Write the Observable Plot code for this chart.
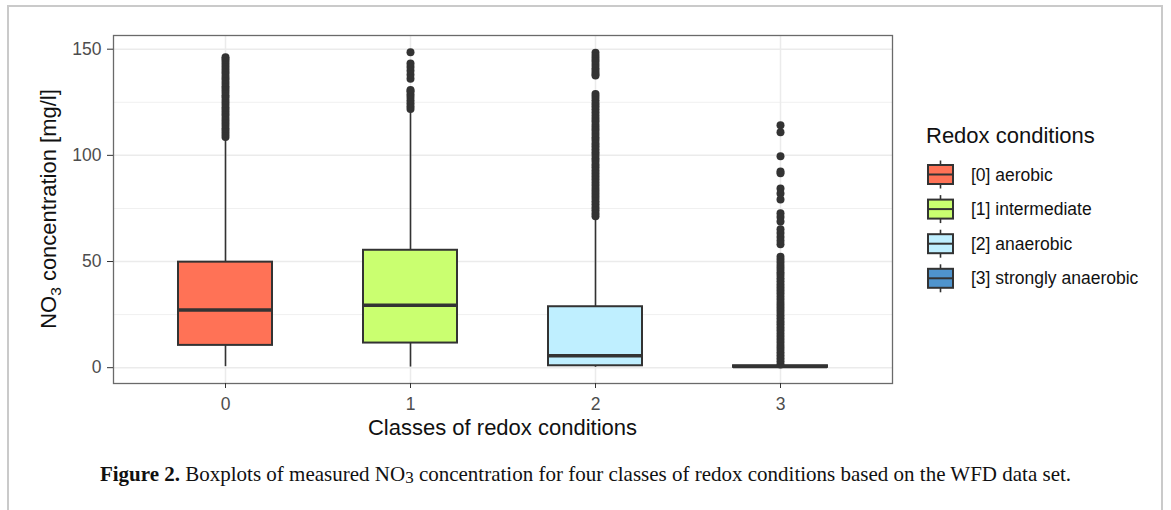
<!DOCTYPE html>
<html><head><meta charset="utf-8">
<script src="https://cdn.jsdelivr.net/npm/d3@7"></script>
<script src="https://cdn.jsdelivr.net/npm/@observablehq/plot@0.6"></script>
<style>
html,body{margin:0;padding:0;background:#fff;width:1171px;height:510px;overflow:hidden;}
#wrap{position:relative;width:1171px;height:510px;}
#chart{position:absolute;left:0;top:0;}
#frame{position:absolute;left:7px;top:5px;width:1156px;height:530px;box-sizing:border-box;border:2px solid #cacaca;border-bottom:none;pointer-events:none;}
#caption{position:absolute;left:0;width:1171px;top:463px;line-height:22px;text-align:center;font-family:"Liberation Serif","Times New Roman",serif;font-size:21px;color:#111;white-space:nowrap;}
#caption sub{font-size:17px;vertical-align:-2px;line-height:0;}
</style></head>
<body><div id="wrap"><div id="chart"></div><div id="caption"></div><div id="frame"></div></div>
<script>
// ---- data ----
const classes = ["0", "1", "2", "3"];
const classLabels = ["[0] aerobic", "[1] intermediate", "[2] anaerobic", "[3] strongly anaerobic"];
const classColors = ["#FF7256", "#CAFF70", "#BFEFFF", "#4F94CD"];
const q1 = [10.5, 11.6, 0.9, 0.15];
const median = [27.2, 29.4, 5.6, 0.5];
const q3 = [49.7, 55.3, 28.7, 0.9];
const whiskerLow = [0.5, 0.3, 0.2, 0.0];
const whiskerHigh = [108.0, 120.5, 70.0, 1.2];
const outliers0 = [108.6,110.0,111.5,112.8,114.3,115.7,117.1,118.6,119.9,121.4,122.7,124.2,125.6,127.1,128.3,129.8,131.2,132.6,134.1,135.6,136.9,138.4,139.7,141.2,142.6,144.0,145.3,146.2];
const outliers1 = [121.8,123.1,124.6,126.0,127.5,128.8,130.2,130.8,136.1,138.0,139.9,141.6,143.3,148.6];
const outliers2 = [148.3,146.8,145.4,144.1,142.5,141.0,139.7,138.4,137.6,128.9,127.5,126.0,124.4,123.1,121.7,120.2,118.6,117.3,115.9,114.3,112.9,111.6,110.0,108.5,107.2,105.6,104.3,102.9,101.5,100.2,98.6,97.3,95.7,94.4,92.9,91.5,90.0,88.6,87.1,85.7,84.2,82.8,81.3,79.9,78.4,77.0,75.4,74.1,72.6,71.3];
const outliers3 = [114.2,110.9,99.6,92.4,91.6,84.4,82.0,79.2,72.7,71.0,68.9,65.2,63.4,61.5,59.8,58.1,52.2,50.8,49.4,47.9,46.5,45.0,43.6,42.1,40.7,39.2,37.8,36.3,34.9,33.4,32.0,30.5,29.1,27.6,26.2,24.7,23.3,21.8,20.4,18.9,17.5,16.0,14.6,13.1,11.7,10.2,8.8,7.3,5.9,4.4,3.0,1.5];
const yMajorTicks = [0, 50, 100, 150];
const yMinorTicks = [25, 75, 125];
const xTitle = "Classes of redox conditions";
const legendTitle = "Redox conditions";

// ---- tables ----
const boxes = classes.map((c, i) => ({cls: c, q1: q1[i], med: median[i], q3: q3[i], lo: whiskerLow[i], hi: whiskerHigh[i]}));
const outs = [];
[outliers0, outliers1, outliers2, outliers3].forEach((arr, i) => arr.forEach(v => outs.push({cls: classes[i], v})));

const FONT = '"Liberation Sans", Arial, sans-serif';
const plot = Plot.plot({
  width: 1171, height: 450,
  marginTop: 35, marginBottom: 67, marginLeft: 113, marginRight: 279,
  style: {fontFamily: FONT, fontSize: "17.5px", background: "transparent", color: "#4d4d4d"},
  x: {type: "band", domain: classes, paddingInner: 0.493, paddingOuter: 0.3465, label: null},
  y: {domain: [-7.45, 156.45], label: null},
  color: {domain: classes, range: classColors},
  marks: [
    Plot.gridY(yMinorTicks, {stroke: "#f0f0f0", strokeOpacity: 1, strokeWidth: 1}),
    Plot.gridY(yMajorTicks, {stroke: "#ebebeb", strokeOpacity: 1, strokeWidth: 1.5}),
    Plot.gridX(classes, {stroke: "#ebebeb", strokeOpacity: 1, strokeWidth: 1.5}),
    Plot.ruleX(boxes, {x: "cls", y1: "q3", y2: "hi", stroke: "#333", strokeWidth: 1.6}),
    Plot.ruleX(boxes, {x: "cls", y1: "lo", y2: "q1", stroke: "#333", strokeWidth: 1.6}),
    Plot.dot(outs, {x: "cls", y: "v", r: 4, fill: "#333", stroke: "none"}),
    Plot.barY(boxes, {x: "cls", y1: "q1", y2: "q3", fill: "cls", stroke: "#333", strokeWidth: 2}),
    Plot.tickY(boxes, {x: "cls", y: "med", stroke: "#333", strokeWidth: 3.5}),
    Plot.frame({stroke: "#6a6a6a", strokeWidth: 1.3}),
    Plot.axisY(yMajorTicks, {tickSize: 6, tickPadding: 6, stroke: "#333", fill: "#4d4d4d", label: null}),
    Plot.axisX({tickSize: 5, tickPadding: 9, stroke: "#333", fill: "#4d4d4d", label: null})
  ]
});
document.getElementById("chart").appendChild(plot);

const svg = d3.select(plot);
// y-axis title with subscript
const yt = svg.append("text")
  .attr("transform", "translate(55.5,209) rotate(-90)")
  .attr("text-anchor", "middle")
  .attr("font-family", FONT).attr("font-size", 22).attr("fill", "#111");
yt.append("tspan").text("NO");
yt.append("tspan").attr("font-size", 15.5).attr("dy", 5).text("3");
yt.append("tspan").attr("dy", -5).text(" concentration [mg/l]");

// x-axis title
svg.append("text").attr("x", 502.5).attr("y", 435).attr("text-anchor", "middle")
  .attr("font-family", FONT).attr("font-size", 22).attr("fill", "#111").text(xTitle);

// legend
const lg = svg.append("g").attr("font-family", FONT).attr("text-anchor", "start");
lg.append("text").attr("x", 926).attr("y", 143).attr("text-anchor", "start").attr("font-size", 22).attr("fill", "#111").text(legendTitle);
classLabels.forEach((lab, i) => {
  const cy = 174.5 + i * 34.6, x0 = 928, w = 25, h = 19;
  const g = lg.append("g");
  g.append("line").attr("x1", x0 + w / 2).attr("x2", x0 + w / 2).attr("y1", cy - 14).attr("y2", cy + 14).attr("stroke", "#333").attr("stroke-width", 1.6);
  g.append("rect").attr("x", x0).attr("y", cy - h / 2).attr("width", w).attr("height", h).attr("fill", classColors[i]).attr("stroke", "#333").attr("stroke-width", 2);
  g.append("line").attr("x1", x0).attr("x2", x0 + w).attr("y1", cy).attr("y2", cy).attr("stroke", "#333").attr("stroke-width", 2);
  g.append("text").attr("x", 971).attr("y", cy + 6).attr("text-anchor", "start").attr("font-size", 17.5).attr("fill", "#111").text(lab);
});

// caption
document.getElementById("caption").innerHTML =
  "<b>Figure 2.</b> Boxplots of measured NO<sub>3</sub> concentration for four classes of redox conditions based on the WFD data set.";
</script>
</body></html>
